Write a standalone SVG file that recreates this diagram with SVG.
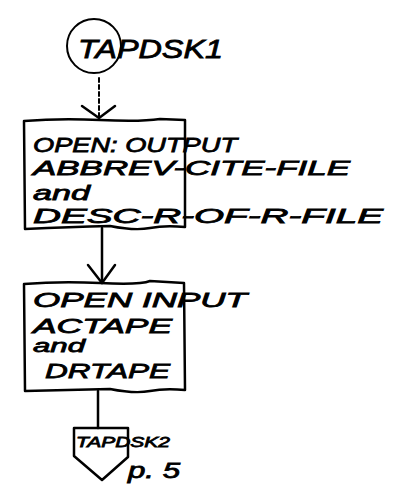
<svg xmlns="http://www.w3.org/2000/svg" width="398" height="500" viewBox="0 0 398 500">
<style>
.ln{fill:none;stroke:#000;stroke-width:2.5;stroke-linecap:round;stroke-linejoin:round}
.t{font-family:"Liberation Sans",Arial,sans-serif;font-style:italic;fill:#000;stroke:#000;stroke-width:0.8}
</style>
<rect width="398" height="500" fill="#fff"/>
<g id="connectors">
<path class="ln" d="M99 78 L99 118" stroke-dasharray="4 3" style="stroke-width:2"/>
<path class="ln" d="M82 106 L99 118 L115 106"/>
<path class="ln" d="M102 228 L102 283"/>
<path class="ln" d="M88 265 L102 283 L115 265"/>
<path class="ln" d="M98 391 L98 428"/>
</g>
<g id="start">
<circle cx="94" cy="46" r="27" class="ln" style="stroke-width:2"/>
<text class="t" x="78" y="58" font-size="26" textLength="145" lengthAdjust="spacingAndGlyphs">TAPDSK1</text>
</g>
<g id="box1">
<path class="ln" d="M24 121 Q60 118 100 120 T160 119 L185 120 L185 227 Q165 225 150 228 T110 226 Q70 227 25 229 Z"/>
<text class="t" x="33" y="152" font-size="21" textLength="204" lengthAdjust="spacingAndGlyphs">OPEN: OUTPUT</text>
<text class="t" x="33" y="175" font-size="21" textLength="317" lengthAdjust="spacingAndGlyphs">ABBREV-CITE-FILE</text>
<text class="t" x="33" y="200" font-size="21" textLength="57" lengthAdjust="spacingAndGlyphs">and</text>
<text class="t" x="33" y="223" font-size="21" textLength="350" lengthAdjust="spacingAndGlyphs">DESC-R-OF-R-FILE</text>
</g>
<g id="box2">
<path class="ln" d="M24 284 Q60 281 100 283 T150 281 L184 283 L185 390 Q165 388 150 391 T110 389 Q70 390 25 391 Z"/>
<text class="t" x="33" y="307" font-size="21" textLength="214" lengthAdjust="spacingAndGlyphs">OPEN INPUT</text>
<text class="t" x="33" y="333" font-size="21" textLength="139" lengthAdjust="spacingAndGlyphs">ACTAPE</text>
<text class="t" x="33" y="352" font-size="19" textLength="52" lengthAdjust="spacingAndGlyphs">and</text>
<text class="t" x="45" y="378" font-size="21" textLength="125" lengthAdjust="spacingAndGlyphs">DRTAPE</text>
</g>
<g id="offpage">
<path class="ln" d="M74 428 L128 428 L128 457 L102 480 L74 456 Z"/>
<text class="t" x="76" y="447" font-size="15" textLength="94" lengthAdjust="spacingAndGlyphs">TAPDSK2</text>
<text class="t" x="128" y="478" font-size="22" textLength="52" lengthAdjust="spacingAndGlyphs">p. 5</text>
</g>
</svg>
